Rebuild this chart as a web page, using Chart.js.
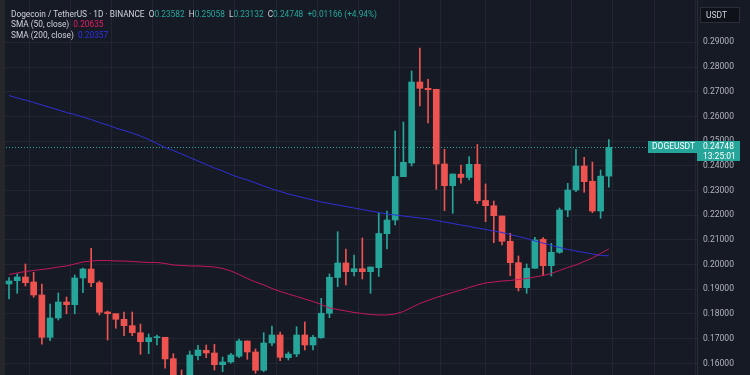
<!DOCTYPE html>
<html>
<head>
<meta charset="utf-8">
<script src="https://cdn.jsdelivr.net/npm/chart.js@4.4.1/dist/chart.umd.min.js"></script>
<style>
  html, body { margin: 0; padding: 0; background: #161a25; }
  #wrap { position: relative; width: 750px; height: 375px; overflow: hidden; }
  #legend {
    position: absolute; left: 11px; top: 9px;
    font: 8.3px Roboto, sans-serif; color: #d1d4dc;
    line-height: 10.3px; white-space: pre; pointer-events: none;
  }
  #legend .g { color: #26a69a; }
  #legend .r { color: #e91e63; }
  #legend .b { color: #3030e8; }
</style>
</head>
<body>
<div id="wrap">
  <canvas id="myChart"></canvas>
  <div id="legend"></div>
</div>
<script>
// daily candles, DOGE/USDT
const opens = [0.19215, 0.19349, 0.19498, 0.19296, 0.18770, 0.17057, 0.17838, 0.18486, 0.18377, 0.19458,
  0.19822, 0.19268, 0.18081, 0.18013, 0.17786, 0.17527, 0.17243, 0.16879, 0.17041, 0.17057,
  0.16191, 0.15100, 0.14950, 0.16312, 0.16531, 0.16421, 0.15948, 0.16057, 0.16288, 0.16907,
  0.16462, 0.15721, 0.16826, 0.17150, 0.16231, 0.16381, 0.17150, 0.16745, 0.17041, 0.18029,
  0.19478, 0.20065, 0.19713, 0.19834, 0.19713, 0.19875, 0.21252, 0.21806, 0.23559, 0.24114,
  0.27393, 0.27138, 0.27098, 0.24073, 0.23195, 0.23660, 0.23527, 0.24061, 0.22596, 0.22381,
  0.21968, 0.20944, 0.20077, 0.19065, 0.19851, 0.21025, 0.19956, 0.20498, 0.22211, 0.23021,
  0.23992, 0.23373, 0.22170, 0.23582];
const highs = [0.19470, 0.19632, 0.20025, 0.19689, 0.19215, 0.18405, 0.18851, 0.18689, 0.19579, 0.19863,
  0.20660, 0.19336, 0.18122, 0.18013, 0.18081, 0.18081, 0.17596, 0.17191, 0.17150, 0.17057,
  0.16393, 0.15733, 0.16502, 0.16733, 0.16745, 0.16774, 0.16259, 0.16409, 0.16988, 0.16907,
  0.16583, 0.17243, 0.17515, 0.17272, 0.16462, 0.17486, 0.17677, 0.17138, 0.18636, 0.19620,
  0.21332, 0.20632, 0.20389, 0.21077, 0.19903, 0.22077, 0.22170, 0.25409, 0.25774, 0.27838,
  0.28770, 0.27502, 0.27098, 0.24668, 0.23668, 0.24033, 0.24369, 0.24863, 0.23264, 0.22575,
  0.21968, 0.21268, 0.20349, 0.20025, 0.21106, 0.21089, 0.20863, 0.22292, 0.23292, 0.24668,
  0.24345, 0.24154, 0.23830, 0.25058];
const lows = [0.18608, 0.18838, 0.19134, 0.18676, 0.16774, 0.16919, 0.17757, 0.18013, 0.18013, 0.18863,
  0.19106, 0.17960, 0.16948, 0.17421, 0.17122, 0.17122, 0.16369, 0.16393, 0.16745, 0.15802,
  0.14842, 0.14600, 0.14700, 0.16138, 0.16231, 0.15733, 0.15664, 0.16004, 0.16231, 0.16166,
  0.15599, 0.15664, 0.16717, 0.16110, 0.16138, 0.16272, 0.16543, 0.16543, 0.17017, 0.17851,
  0.19106, 0.19174, 0.19539, 0.19417, 0.18838, 0.19519, 0.20632, 0.21604, 0.23559, 0.23992,
  0.26421, 0.25733, 0.23049, 0.22183, 0.22077, 0.23292, 0.23426, 0.22474, 0.21737, 0.20887,
  0.20794, 0.19551, 0.18932, 0.18838, 0.19851, 0.19551, 0.19539, 0.20458, 0.21940, 0.22952,
  0.22928, 0.22102, 0.21875, 0.23132];
const closes = [0.19336, 0.19498, 0.19268, 0.18770, 0.17057, 0.17838, 0.18486, 0.18377, 0.19458, 0.19822,
  0.19268, 0.18069, 0.18013, 0.17786, 0.17527, 0.17243, 0.16879, 0.17041, 0.17069, 0.16179,
  0.15126, 0.14950, 0.16340, 0.16543, 0.16421, 0.15948, 0.16057, 0.16340, 0.16907, 0.16462,
  0.15721, 0.16826, 0.17150, 0.16247, 0.16381, 0.17150, 0.16745, 0.17057, 0.18029, 0.19486,
  0.20065, 0.19713, 0.19834, 0.19713, 0.19903, 0.21260, 0.21806, 0.23567, 0.24142, 0.27393,
  0.27138, 0.27081, 0.24073, 0.23195, 0.23668, 0.23527, 0.24061, 0.22587, 0.22385, 0.21980,
  0.20944, 0.20077, 0.19065, 0.19851, 0.20996, 0.19956, 0.20498, 0.22211, 0.23021, 0.23992,
  0.23357, 0.22170, 0.23582, 0.24748];

const sma50 = [0.19600, 0.19660, 0.19721, 0.19762, 0.19802, 0.19843, 0.19903, 0.19944, 0.20025, 0.20106,
  0.20146, 0.20166, 0.20166, 0.20146, 0.20146, 0.20126, 0.20106, 0.20085, 0.20085, 0.20045,
  0.19984, 0.19964, 0.19944, 0.19944, 0.19924, 0.19903, 0.19843, 0.19741, 0.19600, 0.19438,
  0.19296, 0.19174, 0.19033, 0.18911, 0.18810, 0.18709, 0.18608, 0.18506, 0.18385, 0.18243,
  0.18183, 0.18122, 0.18061, 0.18021, 0.17980, 0.17960, 0.17960, 0.18001, 0.18102, 0.18264,
  0.18425, 0.18547, 0.18668, 0.18770, 0.18871, 0.18972, 0.19073, 0.19174, 0.19255, 0.19296,
  0.19336, 0.19357, 0.19397, 0.19438, 0.19498, 0.19559, 0.19640, 0.19762, 0.19883, 0.19984,
  0.20126, 0.20268, 0.20450, 0.20635];
const sma200 = [0.26847, 0.26745, 0.26664, 0.26563, 0.26462, 0.26361, 0.26260, 0.26158, 0.26077, 0.25976,
  0.25875, 0.25753, 0.25652, 0.25531, 0.25430, 0.25328, 0.25207, 0.25065, 0.24903, 0.24741,
  0.24620, 0.24478, 0.24336, 0.24195, 0.24053, 0.23911, 0.23790, 0.23648, 0.23527, 0.23426,
  0.23304, 0.23183, 0.23061, 0.22960, 0.22859, 0.22778, 0.22697, 0.22616, 0.22535, 0.22474,
  0.22413, 0.22353, 0.22292, 0.22231, 0.22170, 0.22110, 0.22049, 0.22009, 0.21968, 0.21928,
  0.21887, 0.21847, 0.21786, 0.21725, 0.21664, 0.21604, 0.21543, 0.21482, 0.21421, 0.21361,
  0.21300, 0.21219, 0.21138, 0.21057, 0.20956, 0.20875, 0.20774, 0.20693, 0.20612, 0.20551,
  0.20490, 0.20430, 0.20369, 0.20357];

const priceTicks = [0.16, 0.17, 0.18, 0.19, 0.20, 0.21, 0.22, 0.23, 0.24, 0.25, 0.26, 0.27, 0.28, 0.29];
const gridDays = [0, 5, 10, 15, 20, 25, 30, 35, 40, 45, 50, 55, 61, 66, 71, 76, 81];

const UP = '#26a69a';
const DOWN = '#ef5350';
const last = closes.length - 1;

const candleColors = closes.map((c, i) => c >= opens[i] ? UP : DOWN);
const wickData = closes.map((c, i) => ({ x: i, y: [lows[i], highs[i]] }));
const bodyData = closes.map((c, i) => ({ x: i, y: [opens[i], c] }));

// legend text
const f5 = v => v.toFixed(5);
const chg = closes[last] - closes[last - 1];
document.getElementById('legend').innerHTML =
  'Dogecoin / TetherUS · 1D · BINANCE  ' +
  'O<span class="g">' + f5(opens[last]) + '</span>  ' +
  'H<span class="g">' + f5(highs[last]) + '</span>  ' +
  'L<span class="g">' + f5(lows[last]) + '</span>  ' +
  'C<span class="g">' + f5(closes[last]) + '  +' + f5(chg) + ' (+' + (chg / closes[last - 1] * 100).toFixed(2) + '%)</span>\n' +
  'SMA (50, close)  <span class="r">' + f5(sma50[last]) + '</span>\n' +
  'SMA (200, close)  <span class="b">' + f5(sma200[last]) + '</span>';

const overlay = {
  id: 'overlay',
  beforeDraw(chart) {
    const ctx = chart.ctx;
    ctx.save();
    ctx.fillStyle = '#161a25';
    ctx.fillRect(0, 0, chart.width, chart.height);
    ctx.restore();
  },
  beforeDatasetsDraw(chart) {
    const ctx = chart.ctx, a = chart.chartArea;
    const py = Math.round(chart.scales.y.getPixelForValue(closes[last])) + 0.5;
    ctx.save();
    ctx.strokeStyle = UP;
    ctx.lineWidth = 1;
    ctx.setLineDash([1, 2]);
    ctx.beginPath();
    ctx.moveTo(a.left, py);
    ctx.lineTo(a.right, py);
    ctx.stroke();
    ctx.restore();
  },
  afterDraw(chart) {
    const ctx = chart.ctx, a = chart.chartArea;
    const py = Math.round(chart.scales.y.getPixelForValue(closes[last]));
    ctx.save();
    // left frame strip
    ctx.fillStyle = '#26272b';
    ctx.fillRect(0, 0, 5, chart.height);
    // symbol tag
    ctx.fillStyle = UP;
    ctx.fillRect(a.right - 49, py - 6, 49, 12);
    // price tag
    ctx.fillRect(a.right, py - 6, 43, 20);
    ctx.fillStyle = '#ffffff';
    ctx.font = '8.5px Roboto, sans-serif';
    ctx.textBaseline = 'middle';
    ctx.fillText('DOGEUSDT', a.right - 45, py);
    ctx.fillText(f5(closes[last]), a.right + 6, py);
    ctx.fillText('13:25:01', a.right + 6, py + 9.5);
    // currency badge
    ctx.fillStyle = '#0f1119';
    ctx.strokeStyle = '#2a2e39';
    ctx.fillRect(700, 7, 40, 16);
    ctx.strokeRect(700.5, 7.5, 39, 15);
    ctx.fillStyle = '#d1d4dc';
    ctx.fillText('USDT', 706, 15.5);
    ctx.restore();
  }
};

const data = {
  datasets: [{
    type: 'line',
    label: 'SMA 50',
    data: sma50.map((v, i) => ({ x: i, y: v })),
    borderColor: '#c2185b',
    borderWidth: 1,
    pointRadius: 0,
    tension: 0,
    order: 0
  }, {
    type: 'line',
    label: 'SMA 200',
    data: sma200.map((v, i) => ({ x: i, y: v })),
    borderColor: '#2f2fd6',
    borderWidth: 1,
    pointRadius: 0,
    tension: 0,
    order: 1
  }, {
    type: 'bar',
    label: 'body',
    data: bodyData,
    backgroundColor: candleColors,
    barThickness: 6,
    minBarLength: 1,
    grouped: false,
    order: 2
  }, {
    type: 'bar',
    label: 'wick',
    data: wickData,
    backgroundColor: candleColors,
    barThickness: 1,
    grouped: false,
    order: 3
  }]
};

const config = {
  type: 'bar',
  data: data,
  plugins: [overlay],
  options: {
    responsive: true,
    maintainAspectRatio: false,
    animation: false,
    layout: { padding: 0 },
    plugins: { legend: { display: false }, tooltip: { enabled: false } },
    scales: {
      x: {
        type: 'linear',
        offset: false,
        min: -1.095,
        max: 83.73,
        afterBuildTicks: s => { s.ticks = gridDays.map(v => ({ value: v })); },
        afterFit: s => { s.height = 0; s.paddingLeft = 0; s.paddingRight = 0; },
        ticks: { display: false },
        grid: { color: '#232632', drawTicks: false },
        border: { display: false }
      },
      y: {
        position: 'right',
        min: 0.1553,
        max: 0.30713,
        afterBuildTicks: s => { s.ticks = priceTicks.map(v => ({ value: v })); },
        afterFit: s => { s.width = 53; s.paddingTop = 0; s.paddingBottom = 0; },
        ticks: {
          color: '#b2b5be',
          font: { family: 'Roboto', size: 8.5 },
          padding: 6,
          crossAlign: 'near',
          callback: v => v.toFixed(5)
        },
        grid: { color: '#232632', drawTicks: false },
        border: { color: '#2a2e39' }
      }
    }
  }
};

const myChart = new Chart(document.getElementById('myChart'), config);
</script>
</body>
</html>
